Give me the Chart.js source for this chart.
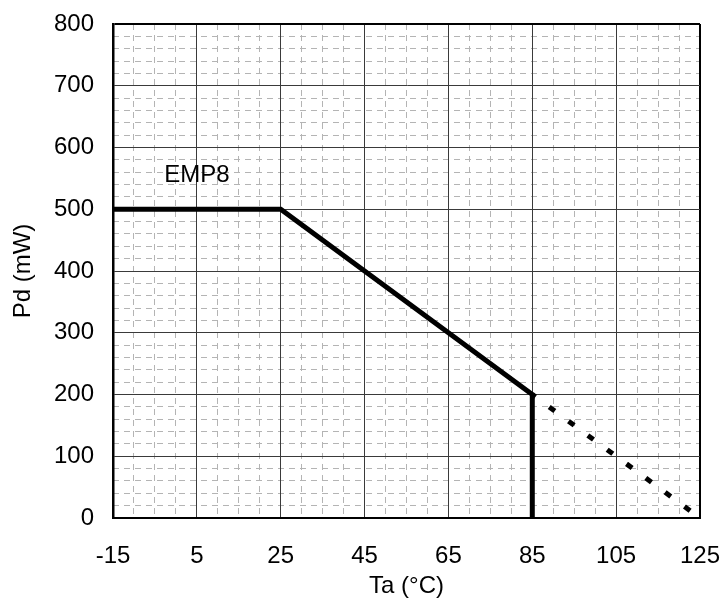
<!DOCTYPE html>
<html>
<head>
<meta charset="utf-8">
<script src="https://cdn.jsdelivr.net/npm/chart.js@4"></script>
<style>
  html, body { margin: 0; padding: 0; background: #fff; }
  #wrap { width: 723px; height: 601px; }
</style>
</head>
<body>
<div id="wrap"><canvas id="derating"></canvas></div>
<script>
// derating curve, Ta in °C, Pd in mW
const curveTa = [-15, 25, 85, 85];
const curvePd = [500, 500, 200, 0];
const dashTa = [85, 125];
const dashPd = [200, 0];
const xTicks = [-15, 5, 25, 45, 65, 85, 105, 125];
const yTicks = [0, 100, 200, 300, 400, 500, 600, 700, 800];
const xMinorStep = 5;
const yMinorStep = 20;
const seriesLabel = "EMP8";
const labelPos = [5, 555];

const FONT = "'Liberation Sans', Arial, sans-serif";
Chart.defaults.font.family = FONT;
Chart.defaults.color = "#000";

function toPoints(xs, ys) {
    return xs.map((x, i) => ({ x: x, y: ys[i] }));
}

function edgeColor(min, max, major) {
    return ctx => (ctx.tick && (ctx.tick.value === min || ctx.tick.value === max)) ? "#000" : major;
}

// no label overhang, the plot box is placed by the layout padding
function noOverhang(s) {
    s.paddingLeft = 0;
    s.paddingRight = 0;
    s.paddingTop = 0;
    s.paddingBottom = 0;
}

const labelPlugin = {
    id: "seriesLabel",
    afterDatasetsDraw(chart) {
        const c = chart.ctx;
        const x = chart.scales.x.getPixelForValue(labelPos[0]);
        const y = chart.scales.y.getPixelForValue(labelPos[1]);
        c.save();
        c.fillStyle = "#000";
        c.font = "24px " + FONT;
        c.textAlign = "center";
        c.textBaseline = "middle";
        c.fillText(seriesLabel, x, y);
        c.restore();
    }
};

new Chart(document.getElementById("derating"), {
    type: "line",
    data: {
        datasets: [{
            data: toPoints(curveTa, curvePd),
            borderColor: "#000",
            borderWidth: 5,
            pointRadius: 0,
            tension: 0,
            borderCapStyle: "butt",
            borderJoinStyle: "miter"
        }, {
            data: toPoints(dashTa, dashPd),
            borderColor: "#000",
            borderWidth: 5,
            borderDash: [7, 17],
            borderDashOffset: 3,
            pointRadius: 0,
            tension: 0
        }]
    },
    options: {
        responsive: true,
        maintainAspectRatio: false,
        animation: false,
        layout: { padding: { left: 5, right: 23, top: 24, bottom: 0 } },
        plugins: {
            legend: { display: false },
            tooltip: { enabled: false }
        },
        scales: {
            xMinor: {
                type: "linear",
                position: "bottom",
                min: -15,
                max: 125,
                afterBuildTicks: s => {
                    const t = [];
                    for (let v = -15; v <= 125; v += xMinorStep) t.push({ value: v });
                    s.ticks = t;
                },
                afterFit: s => { s.height = 0; noOverhang(s); },
                ticks: { display: false },
                grid: { color: "#b4b4b4", lineWidth: 1, drawTicks: false },
                border: { display: false, dash: [6, 5] }
            },
            yMinor: {
                type: "linear",
                position: "left",
                min: 0,
                max: 800,
                afterBuildTicks: s => {
                    const t = [];
                    for (let v = 0; v <= 800; v += yMinorStep) t.push({ value: v });
                    s.ticks = t;
                },
                afterFit: s => { s.width = 0; noOverhang(s); },
                ticks: { display: false },
                grid: { color: "#b4b4b4", lineWidth: 1, drawTicks: false },
                border: { display: false, dash: [6, 5] }
            },
            x: {
                type: "linear",
                position: "bottom",
                min: -15,
                max: 125,
                afterBuildTicks: s => { s.ticks = xTicks.map(v => ({ value: v })); },
                afterFit: s => { s.height = 83; noOverhang(s); },
                ticks: { font: { size: 24 }, padding: 24, maxRotation: 0 },
                grid: {
                    color: edgeColor(-15, 125, "#3a3a3a"),
                    lineWidth: ctx => (ctx.tick && ctx.tick.value === 125) ? 2 : 1,
                    drawTicks: false
                },
                border: { color: "#000", width: 2 },
                title: { display: true, text: "Ta (°C)", font: { size: 24 }, padding: { top: 0, bottom: 0 } }
            },
            y: {
                type: "linear",
                position: "left",
                min: 0,
                max: 800,
                afterBuildTicks: s => { s.ticks = yTicks.map(v => ({ value: v })); },
                afterFit: s => { s.width = 108; noOverhang(s); },
                ticks: { font: { size: 24 }, padding: 19 },
                grid: {
                    color: edgeColor(0, 800, "#3a3a3a"),
                    lineWidth: ctx => (ctx.tick && ctx.tick.value === 800) ? 2 : 1,
                    drawTicks: false
                },
                border: { color: "#000", width: 2.5 },
                title: { display: true, text: "Pd (mW)", font: { size: 24 }, padding: { top: 4, bottom: 0 } }
            }
        }
    },
    plugins: [labelPlugin]
});
</script>
</body>
</html>
